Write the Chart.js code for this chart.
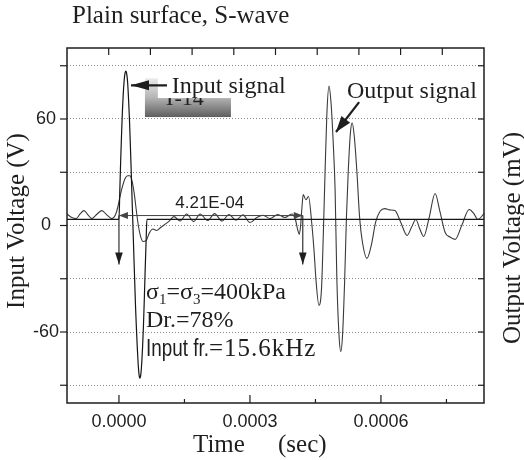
<!DOCTYPE html>
<html>
<head>
<meta charset="utf-8">
<script src="https://cdn.jsdelivr.net/npm/chart.js@4/dist/chart.umd.min.js"></script>
<style>
  html, body { margin: 0; padding: 0; background: #fff; }
  #wrap { width: 524px; height: 460px; position: relative; }
</style>
</head>
<body>
<div id="wrap"><canvas id="c" width="524" height="460"></canvas></div>
<script>
// Input (source) pulse: time in microseconds, voltage in V
const inputTimeUs = [-119, -2, 0, 2, 4, 6, 8, 10, 12, 14, 16, 18, 20, 22, 24, 26, 28, 30, 32,
  34, 36, 38, 40, 42, 44, 46, 48, 50, 52, 54, 56, 58, 60, 62, 64, 836];
const inputVolt = [3.5, 3.5, 3.5, 20, 37, 52, 65, 75, 82, 86, 87, 85, 80, 71, 60, 46, 31, 15, 0,
  -16, -31, -46, -58, -69, -78, -84, -86, -84, -78, -69, -57, -42, -25, -10, 3.5, 3.5];

// Received (output) signal: time in microseconds, voltage in mV
const outputTimeUs = [-119, -108, -98, -89, -80, -71, -62, -50, -39, -28, -16, -8, -3, 3, 8, 14,
  20, 25, 30, 35, 40, 45, 50, 55, 62, 70, 78, 86, 96, 105, 115, 126, 140, 155, 171, 186, 203,
  219, 236, 252, 268, 284, 300, 316, 330, 346, 364, 380, 396, 404, 409, 413, 416, 419, 422, 428,
  434, 442, 447, 451, 458, 464, 468, 472, 476, 481, 486, 491, 495, 499, 504, 508, 512, 517, 521,
  525, 530, 534, 539, 545, 551, 558, 568, 578, 588, 598, 609, 620, 632, 645, 660, 670, 680, 689,
  698, 710, 724, 735, 747, 758, 770, 785, 802, 812, 822, 836];
const outputVolt = [6.5, 4.5, 3.9, 6.5, 8.4, 6, 3.9, 6.5, 8.4, 6, 3.9, 6, 10, 17, 22, 26.5,
  28, 28, 25, 18, 8, -1, -6.5, -9, -8.5, -4, -2, -2.8, -1, 0.6, 2.5, 5, 2.5, 6.5, 2.2, 6.5, 2.8,
  6.7, 2.5, 6.2, 3, 6, 1.7, 4.5, 5.8, 3.9, 6.2, 4.5, 6.5, 3.5, -2, -5, 0, 10, 17.4, 14.5,
  16.3, 0, -15, -30, -45, -35, -5, 30, 62, 78.5, 68, 45, 20, -30, -62, -71, -62, -30, 5,
  30, 52, 57.8, 50, 30, 5, -10, -18.5, -11, 2, 8, 9.5, 8.8, 8.4, 2, -5.6, -1, 3.4, -2,
  -6.2, 4, 18, 8, -3.9, -6.5, -7.8, 0, 9, 7, 3.4, 6.7];

// Axis ticks
const xTicksSec = [0, 0.00015, 0.0003, 0.00045, 0.0006, 0.00075];
const xTickLabels = ['0.0000', '', '0.0003', '', '0.0006', ''];
const yTicks = [-90, -60, -30, 0, 30, 60, 90];
const yTickLabels = ['', '-60', '', '0', '', '60', ''];

// Measured arrival delay between input and output (microseconds)
const delayUs = 421;
const delayLabel = '4.21E-04';

const SERIF = '"Liberation Serif", "Times New Roman", serif';
const SANS = '"Liberation Sans", Arial, sans-serif';
const INK = '#1e1e1e';

const toPoints = (ts, vs) => ts.map((t, i) => ({ x: t * 1e-6, y: vs[i] }));

function arrowHead(ctx, x0, y0, x1, y1, len, half) {
  const ang = Math.atan2(y1 - y0, x1 - x0);
  ctx.beginPath();
  ctx.moveTo(x1, y1);
  ctx.lineTo(x1 - len * Math.cos(ang) + half * Math.sin(ang), y1 - len * Math.sin(ang) - half * Math.cos(ang));
  ctx.lineTo(x1 - len * Math.cos(ang) - half * Math.sin(ang), y1 - len * Math.sin(ang) + half * Math.cos(ang));
  ctx.closePath();
  ctx.fill();
}

function arrow(ctx, x0, y0, x1, y1, len, half, width) {
  ctx.lineWidth = width;
  ctx.beginPath();
  ctx.moveTo(x0, y0);
  ctx.lineTo(x1, y1);
  ctx.stroke();
  arrowHead(ctx, x0, y0, x1, y1, len, half);
}

const decor = {
  id: 'decor',
  afterDatasetsDraw(chart) {
    const { ctx, chartArea: a, scales } = chart;
    const { x, y, x2, y2 } = scales;
    const px = us => x.getPixelForValue(us * 1e-6);
    const py = v => y.getPixelForValue(v);
    ctx.save();
    ctx.strokeStyle = INK;
    ctx.fillStyle = INK;

    // frame
    ctx.lineWidth = 1.5;
    ctx.strokeRect(a.left, a.top, a.right - a.left, a.bottom - a.top);

    // bottom ticks (inward)
    ctx.lineWidth = 1.2;
    xTicksSec.forEach((v, i) => {
      const p = x.getPixelForValue(v);
      const len = xTickLabels[i] ? 8 : 4;
      ctx.beginPath(); ctx.moveTo(p, a.bottom); ctx.lineTo(p, a.bottom - len); ctx.stroke();
    });
    // top ticks (inward)
    for (let k = 1; k < 10; k++) {
      const p = x2.getPixelForValue(k);
      ctx.beginPath(); ctx.moveTo(p, a.top); ctx.lineTo(p, a.top + 7); ctx.stroke();
    }
    // left ticks (outward) and right ticks (inward)
    yTicks.forEach(v => {
      const p = y.getPixelForValue(v);
      ctx.beginPath(); ctx.moveTo(a.left, p); ctx.lineTo(a.left - 7, p); ctx.stroke();
      const q = y2.getPixelForValue(v);
      ctx.beginPath(); ctx.moveTo(a.right, q); ctx.lineTo(a.right - 6, q); ctx.stroke();
    });

    // chart title
    ctx.font = '25px ' + SERIF;
    ctx.textAlign = 'left';
    ctx.textBaseline = 'alphabetic';
    ctx.fillText('Plain surface, S-wave', 72, 23);

    // axis titles
    ctx.fillText('Time', a.left + 126, 452);
    ctx.fillText('(sec)', a.left + 211, 452);
    ctx.textAlign = 'center';
    ctx.textBaseline = 'middle';
    ctx.save();
    ctx.translate(17, 221); ctx.rotate(-Math.PI / 2);
    ctx.fillText('Input Voltage (V)', 0, 0);
    ctx.restore();
    ctx.save();
    ctx.translate(513, 238); ctx.rotate(-Math.PI / 2);
    ctx.fillText('Output Voltage (mV)', 0, 0);
    ctx.restore();

    // specimen tag with shaded background
    const gx0 = px(59.5), gx1 = px(256.5), gy0 = py(83), gy1 = py(61.1);
    const grad = ctx.createLinearGradient(0, gy0, 0, gy1);
    grad.addColorStop(0, '#ececec');
    grad.addColorStop(0.5, '#b4b4b4');
    grad.addColorStop(1, '#5e5e5e');
    ctx.fillStyle = grad;
    ctx.fillRect(gx0, gy0, gx1 - gx0, gy1 - gy0);
    ctx.fillStyle = INK;
    ctx.textAlign = 'left';
    ctx.textBaseline = 'alphabetic';
    ctx.font = '22px ' + SERIF;
    ctx.fillText('T-14', px(100.8), py(68));

    // input label on white
    ctx.fillStyle = '#fff';
    const wx0 = px(89), wx1 = px(391), wy0 = py(84), wy1 = py(71.8);
    ctx.fillRect(wx0, wy0, wx1 - wx0, wy1 - wy0);
    ctx.fillStyle = INK;
    ctx.font = '24px ' + SERIF;
    ctx.fillText('Input signal', px(121), py(74.4));
    arrow(ctx, px(110), py(79), px(27.5), py(79), 18, 5, 2.2);

    // output label
    ctx.fillText('Output signal', px(522), py(71.8));
    arrow(ctx, px(550), py(69.5), px(497), py(52.7), 16, 5.5, 2.2);

    // delay marker
    ctx.strokeStyle = '#444';
    ctx.fillStyle = '#444';
    const dy = py(5.6);
    ctx.lineWidth = 1;
    ctx.beginPath(); ctx.moveTo(px(0), dy); ctx.lineTo(px(delayUs), dy); ctx.stroke();
    arrowHead(ctx, px(delayUs), dy, px(0), dy, 9, 3.5);
    arrowHead(ctx, px(0), dy, px(delayUs), dy, 9, 3.5);
    ctx.strokeStyle = INK;
    ctx.fillStyle = INK;
    arrow(ctx, px(0), dy, px(0), py(-22), 12, 3.8, 1.1);
    arrow(ctx, px(delayUs), dy, px(delayUs), py(-22), 12, 3.8, 1.1);
    ctx.font = '17px ' + SANS;
    ctx.textAlign = 'center';
    ctx.fillText(delayLabel, px(208), py(10.1));

    // test conditions
    ctx.textAlign = 'left';
    let cx = px(62);
    const b1 = py(-41.5), b2 = py(-57.2), b3 = py(-73.5);
    const parts = [
      ['24px ' + SERIF, 'σ', 0], ['15px ' + SERIF, '1', 5], ['24px ' + SERIF, '=σ', 0],
      ['15px ' + SERIF, '3', 5], ['24px ' + SERIF, '=400kPa', 0]
    ];
    parts.forEach(([f, t, o]) => {
      ctx.font = f;
      ctx.fillText(t, cx, b1 + o);
      cx += ctx.measureText(t).width;
    });
    ctx.font = '24px ' + SERIF;
    ctx.fillText('Dr.=78%', px(62), b2);
    // "Input fr." in a condensed sans face
    cx = px(62);
    ctx.font = '23px ' + SANS;
    const w = ctx.measureText('Input fr.').width * 0.82;
    ctx.save();
    ctx.translate(cx, b3); ctx.scale(0.82, 1);
    ctx.fillText('Input fr.', 0, 0);
    ctx.restore();
    cx += w;
    ctx.font = '25px ' + SERIF;
    ctx.letterSpacing = '1px';
    ctx.fillText('=15.6kHz', cx, b3);
    ctx.letterSpacing = '0px';

    ctx.restore();
  }
};

new Chart(document.getElementById('c'), {
  type: 'line',
  data: {
    datasets: [
      {
        label: 'Input signal',
        data: toPoints(inputTimeUs, inputVolt),
        yAxisID: 'y',
        borderColor: '#151515',
        borderWidth: 1.2,
        pointRadius: 0,
        cubicInterpolationMode: 'monotone',
        fill: false
      },
      {
        label: 'Output signal',
        data: toPoints(outputTimeUs, outputVolt),
        yAxisID: 'y2',
        borderColor: '#3a3a3a',
        borderWidth: 1.1,
        pointRadius: 0,
        cubicInterpolationMode: 'monotone',
        fill: false
      }
    ]
  },
  options: {
    responsive: false,
    animation: false,
    devicePixelRatio: 1,
    layout: { padding: { top: 48, right: 40, bottom: 0, left: 0 } },
    plugins: { legend: { display: false }, tooltip: { enabled: false }, title: { display: false } },
    scales: {
      x: {
        type: 'linear',
        position: 'bottom',
        min: -0.000119,
        max: 0.000836,
        afterBuildTicks: s => { s.ticks = xTicksSec.map(v => ({ value: v })); },
        afterFit: s => { s.height = 57; },
        grid: { display: false, drawTicks: false },
        border: { display: false },
        ticks: {
          autoSkip: false,
          maxRotation: 0,
          padding: 8,
          color: INK,
          font: { family: SANS, size: 18 },
          callback: (v, i) => xTickLabels[i]
        }
      },
      x2: {
        type: 'linear',
        position: 'top',
        min: 0,
        max: 10,
        display: false
      },
      y: {
        type: 'linear',
        position: 'left',
        min: -100,
        max: 100,
        afterBuildTicks: s => { s.ticks = yTicks.map(v => ({ value: v })); },
        afterFit: s => { s.width = 67; },
        grid: { color: '#8a8a8a', lineWidth: 1, drawTicks: false },
        border: { display: false, dash: [1, 2] },
        ticks: {
          autoSkip: false,
          padding: 8,
          crossAlign: 'center',
          color: INK,
          font: { family: SANS, size: 18 },
          callback: (v, i) => yTickLabels[i]
        }
      },
      y2: {
        type: 'linear',
        position: 'right',
        min: -100,
        max: 100,
        display: false
      }
    }
  },
  plugins: [decor]
});
</script>
</body>
</html>
